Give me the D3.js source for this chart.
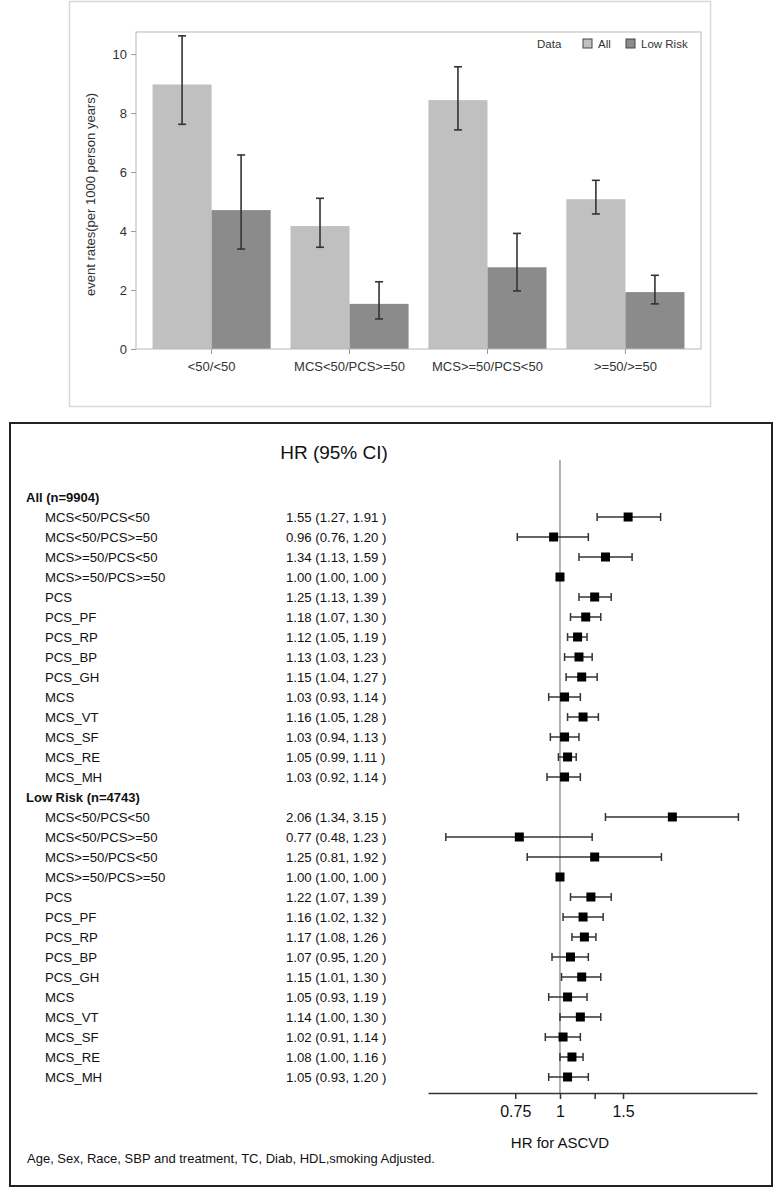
<!DOCTYPE html>
<html><head><meta charset="utf-8">
<script src="https://cdn.jsdelivr.net/npm/d3@7"></script>
<style>
html,body{margin:0;padding:0;background:#fff;}
svg{display:block;font-family:"Liberation Sans",Arial,sans-serif;}
</style></head>
<body>
<svg id="chart" width="777" height="1189"></svg>
<script>
// ---------- Bar chart data ----------
const categories = ["<50/<50", "MCS<50/PCS>=50", "MCS>=50/PCS<50", ">=50/>=50"];
const seriesNames = ["All", "Low Risk"];
const allRate = [8.97, 4.17, 8.44, 5.08];
const allLow  = [7.62, 3.45, 7.43, 4.58];
const allHigh = [10.62, 5.11, 9.57, 5.72];
const lrRate  = [4.71, 1.53, 2.77, 1.93];
const lrLow   = [3.39, 1.02, 1.97, 1.53];
const lrHigh  = [6.58, 2.28, 3.92, 2.50];
const yTicks  = [0, 2, 4, 6, 8, 10];

// ---------- Forest plot data ----------
const groupLabels = ["All (n=9904)", "Low Risk (n=4743)"];
const rowLabels = ["MCS<50/PCS<50","MCS<50/PCS>=50","MCS>=50/PCS<50","MCS>=50/PCS>=50","PCS","PCS_PF","PCS_RP","PCS_BP","PCS_GH","MCS","MCS_VT","MCS_SF","MCS_RE","MCS_MH"];
const allHR = [1.55,0.96,1.34,1.00,1.25,1.18,1.12,1.13,1.15,1.03,1.16,1.03,1.05,1.03];
const allL  = [1.27,0.76,1.13,1.00,1.13,1.07,1.05,1.03,1.04,0.93,1.05,0.94,0.99,0.92];
const allU  = [1.91,1.20,1.59,1.00,1.39,1.30,1.19,1.23,1.27,1.14,1.28,1.13,1.11,1.14];
const lrHR  = [2.06,0.77,1.25,1.00,1.22,1.16,1.17,1.07,1.15,1.05,1.14,1.02,1.08,1.05];
const lrL   = [1.34,0.48,0.81,1.00,1.07,1.02,1.08,0.95,1.01,0.93,1.00,0.91,1.00,0.93];
const lrU   = [3.15,1.23,1.92,1.00,1.39,1.32,1.26,1.20,1.30,1.19,1.30,1.14,1.16,1.20];
const hrTicks = [0.75, 1, 1.25, 1.5];
const hrTickLabels = ["0.75", "1", "", "1.5"];

const svg = d3.select("#chart");
const f2 = d3.format(".2f");
const FONT = "Liberation Sans, Arial, sans-serif";

// ================= TOP PANEL =================
svg.append("rect").attr("x", 69.5).attr("y", 1.5).attr("width", 641).attr("height", 405)
  .attr("fill", "#fff").attr("stroke", "#d8d8d8").attr("stroke-width", 1.5);

const pL = 136, pR = 701, pT = 32, pB = 349;
const x0 = d3.scaleBand().domain(categories).range([pL, pR]).paddingInner(0.144).paddingOuter(0.12);
const x1 = d3.scaleBand().domain(seriesNames).range([0, x0.bandwidth()]);
const y = d3.scaleLinear().domain([0, 10.75]).range([pB, pT]);
const colors = {"All": "#c0c0c0", "Low Risk": "#8b8b8b"};

const barData = [];
categories.forEach((c, i) => {
  barData.push({cat: c, s: "All", v: allRate[i], lo: allLow[i], hi: allHigh[i]});
  barData.push({cat: c, s: "Low Risk", v: lrRate[i], lo: lrLow[i], hi: lrHigh[i]});
});

const gBars = svg.append("g");
gBars.selectAll("rect.bar").data(barData).join("rect").attr("class", "bar")
  .attr("x", d => x0(d.cat) + x1(d.s))
  .attr("width", x1.bandwidth())
  .attr("y", d => y(d.v))
  .attr("height", d => y(0) - y(d.v))
  .attr("fill", d => colors[d.s]);

// error bars
const cx = d => x0(d.cat) + x1(d.s) + x1.bandwidth() / 2;
const eb = gBars.selectAll("g.eb").data(barData).join("g").attr("class", "eb")
  .attr("stroke", "#333").attr("stroke-width", 1.6);
eb.append("line").attr("x1", cx).attr("x2", cx)
  .attr("y1", d => y(d.lo)).attr("y2", d => y(d.hi));
eb.append("line").attr("x1", d => cx(d) - 4).attr("x2", d => cx(d) + 4)
  .attr("y1", d => y(d.lo)).attr("y2", d => y(d.lo));
eb.append("line").attr("x1", d => cx(d) - 4).attr("x2", d => cx(d) + 4)
  .attr("y1", d => y(d.hi)).attr("y2", d => y(d.hi));

// plot frame
svg.append("rect").attr("x", pL).attr("y", pT).attr("width", pR - pL).attr("height", pB - pT)
  .attr("fill", "none").attr("stroke", "#b8b8b8").attr("stroke-width", 1);

// axes
const yAxis = svg.append("g").attr("transform", `translate(${pL},0)`)
  .call(d3.axisLeft(y).tickValues(yTicks).tickSize(5).tickPadding(4));
yAxis.select(".domain").remove();
yAxis.selectAll("line").attr("stroke", "#999");
yAxis.selectAll("text").attr("font-size", 13).attr("fill", "#333").style("font-family", FONT);

const xAxis = svg.append("g").attr("transform", `translate(0,${pB})`)
  .call(d3.axisBottom(x0).tickSize(5).tickPadding(8));
xAxis.select(".domain").remove();
xAxis.selectAll("line").attr("stroke", "#999");
xAxis.selectAll("text").attr("font-size", 13).attr("fill", "#333").style("font-family", FONT);

svg.append("text").attr("transform", `translate(95,${(pT + pB) / 2 + 4}) rotate(-90)`)
  .attr("text-anchor", "middle").attr("font-size", 13).attr("fill", "#333")
  .text("event rates(per 1000 person years)");

// legend
const lg = svg.append("g").attr("font-size", 11.5).attr("fill", "#333");
lg.append("text").attr("x", 537).attr("y", 48).text("Data");
const legX = [583, 626];
seriesNames.forEach((s, i) => {
  lg.append("rect").attr("x", legX[i]).attr("y", 39).attr("width", 9).attr("height", 9)
    .attr("fill", colors[s]).attr("stroke", "#444").attr("stroke-width", 1);
  lg.append("text").attr("x", legX[i] + 15).attr("y", 48).text(s);
});

// ================= BOTTOM PANEL =================
svg.append("rect").attr("x", 10).attr("y", 423).attr("width", 762).attr("height", 763)
  .attr("fill", "#fff").attr("stroke", "#222").attr("stroke-width", 2);

svg.append("text").attr("x", 334).attr("y", 459).attr("text-anchor", "middle")
  .attr("font-size", 19).attr("fill", "#111").text("HR (95% CI)");

// build rows
const rows = [];
groupLabels.forEach((g, gi) => {
  rows.push({type: "header", label: g});
  const hr = gi === 0 ? allHR : lrHR, lo = gi === 0 ? allL : lrL, hi = gi === 0 ? allU : lrU;
  rowLabels.forEach((r, i) => rows.push({type: "row", label: r, hr: hr[i], lo: lo[i], hi: hi[i]}));
});
const yr = d3.scalePoint().domain(d3.range(rows.length)).range([497, 1077]);
const xr = d3.scaleLog().domain([0.428, 3.55]).range([428, 757]);
const axisY = 1093;

// reference line
svg.append("line").attr("x1", xr(1)).attr("x2", xr(1)).attr("y1", 460).attr("y2", axisY)
  .attr("stroke", "#999").attr("stroke-width", 1.5);

const gr = svg.append("g").selectAll("g").data(rows).join("g")
  .attr("transform", (d, i) => `translate(0,${yr(i)})`);

gr.filter(d => d.type === "header").append("text")
  .attr("x", 26).attr("dy", "0.35em").attr("font-size", 13).attr("font-weight", "bold")
  .attr("fill", "#111").text(d => d.label);

const rr = gr.filter(d => d.type === "row");
rr.append("text").attr("x", 45).attr("dy", "0.35em").attr("font-size", 13.2).attr("fill", "#111")
  .text(d => d.label);
rr.append("text").attr("x", 286).attr("dy", "0.35em").attr("font-size", 13.2).attr("fill", "#111")
  .text(d => `${f2(d.hr)} (${f2(d.lo)}, ${f2(d.hi)} )`);

rr.append("line").attr("x1", d => xr(d.lo)).attr("x2", d => xr(d.hi))
  .attr("stroke", "#333").attr("stroke-width", 1.5);
rr.append("line").attr("x1", d => xr(d.lo)).attr("x2", d => xr(d.lo)).attr("y1", -4).attr("y2", 4)
  .attr("stroke", "#333").attr("stroke-width", 1.5);
rr.append("line").attr("x1", d => xr(d.hi)).attr("x2", d => xr(d.hi)).attr("y1", -4).attr("y2", 4)
  .attr("stroke", "#333").attr("stroke-width", 1.5);
rr.append("rect").attr("x", d => xr(d.hr) - 4.5).attr("y", -4.5).attr("width", 9).attr("height", 9)
  .attr("fill", "#000");

// forest axis
const fa = svg.append("g").attr("transform", `translate(0,${axisY})`)
  .call(d3.axisBottom(xr).tickValues(hrTicks).tickFormat((d, i) => hrTickLabels[i]).tickSize(6).tickSizeOuter(0).tickPadding(7));
fa.select(".domain").attr("stroke", "#333").attr("stroke-width", 1.5);
fa.selectAll("line").attr("stroke", "#333").attr("stroke-width", 1.5);
fa.selectAll("text").attr("font-size", 16).attr("fill", "#111").style("font-family", FONT);

svg.append("text").attr("x", 560).attr("y", 1148).attr("text-anchor", "middle")
  .attr("font-size", 15).attr("fill", "#111").text("HR for ASCVD");

svg.append("text").attr("x", 27).attr("y", 1163).attr("font-size", 13).attr("fill", "#111")
  .text("Age, Sex, Race, SBP and treatment, TC, Diab, HDL,smoking Adjusted.");
</script>
</body></html>
